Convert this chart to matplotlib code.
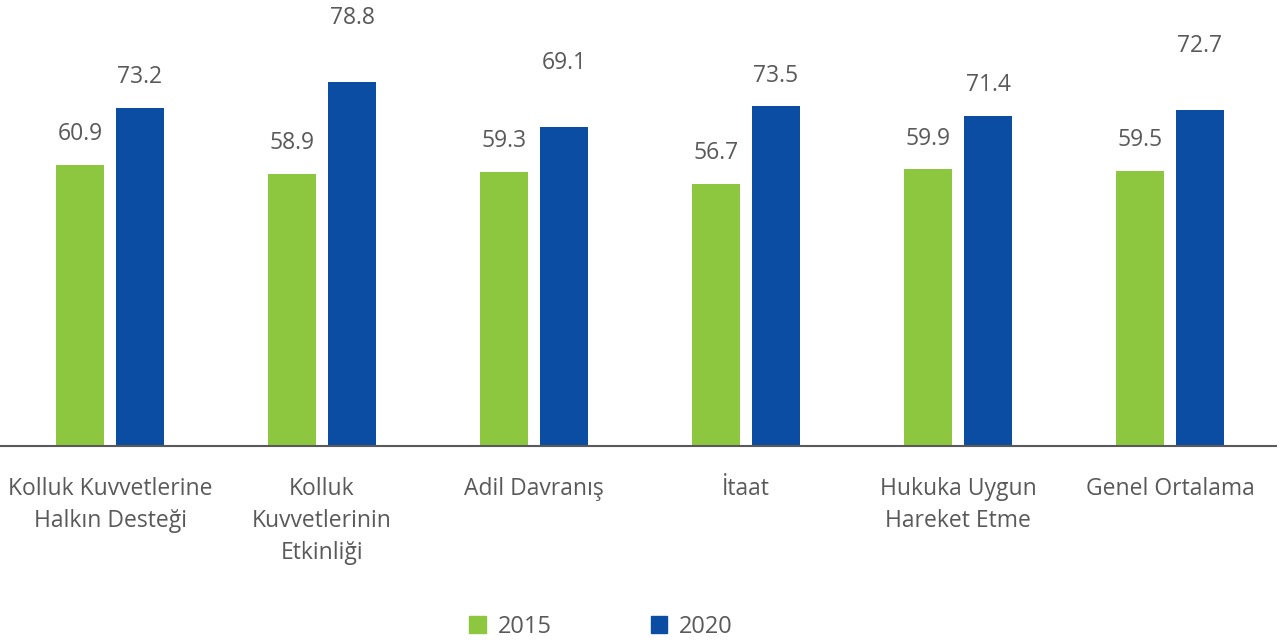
import matplotlib
matplotlib.use("Agg")
import matplotlib.pyplot as plt
from matplotlib.patches import Patch
import numpy as np

categories = ["Kolluk Kuvvetlerine\nHalkın Desteği", "Kolluk\nKuvvetlerinin\nEtkinliği",
              "Adil Davranış", "İtaat", "Hukuka Uygun\nHareket Etme", "Genel Ortalama"]
series_names = ["2015", "2020"]
values_2015 = [60.9, 58.9, 59.3, 56.7, 59.9, 59.5]
values_2020 = [73.2, 78.8, 69.1, 73.5, 71.4, 72.7]

# label placement (points above bar top), as in the original layout
label_offsets_2015 = [22, 22, 22, 22, 22, 22]
label_offsets_2020 = [22, 46, 46, 22, 22, 46]

green = "#8DC63F"
blue = "#0B4DA2"
txt = "#595959"

plt.rcParams['font.family'] = ['Open Sans', 'DejaVu Sans']

W, H = 1281, 644
fig = plt.figure(figsize=(W / 100, H / 100), dpi=100)
ax = fig.add_axes([0, (H - 446) / H, 1276 / W, 446 / H])

x = np.arange(len(categories))
bw = 0.226
off = 0.1415
b1 = ax.bar(x - off, values_2015, bw, color=green, label=series_names[0])
b2 = ax.bar(x + off, values_2020, bw, color=blue, label=series_names[1])

for bars, vals, offs in ((b1, values_2015, label_offsets_2015),
                         (b2, values_2020, label_offsets_2020)):
    for r, v, o in zip(bars, vals, offs):
        ax.annotate(f"{v:.1f}", (r.get_x() + r.get_width() / 2, v), xytext=(0, o),
                    textcoords="offset points", ha="center", va="center",
                    fontsize=16.5, color=txt)

ax.set_xlim(-0.519, 5.5)
ax.set_ylim(0, 96.5)
for s in ["top", "right", "left"]:
    ax.spines[s].set_visible(False)
ax.spines["bottom"].set_color("#595959")
ax.spines["bottom"].set_linewidth(1.5)
ax.set_yticks([])
ax.set_xticks(x)
ax.set_xticklabels(categories, fontsize=16.5, color=txt, linespacing=1.45)
ax.tick_params(axis="x", length=0, pad=22)

handles = [Patch(color=green), Patch(color=blue)]
fig.legend(handles, series_names, loc="center", bbox_to_anchor=(601 / W, 1 - 627 / H),
           ncol=2, frameon=False, fontsize=17, labelcolor=txt,
           handlelength=0.7, handleheight=0.7, columnspacing=4.2, handletextpad=0.5)

fig.savefig("out.png", dpi=100)
